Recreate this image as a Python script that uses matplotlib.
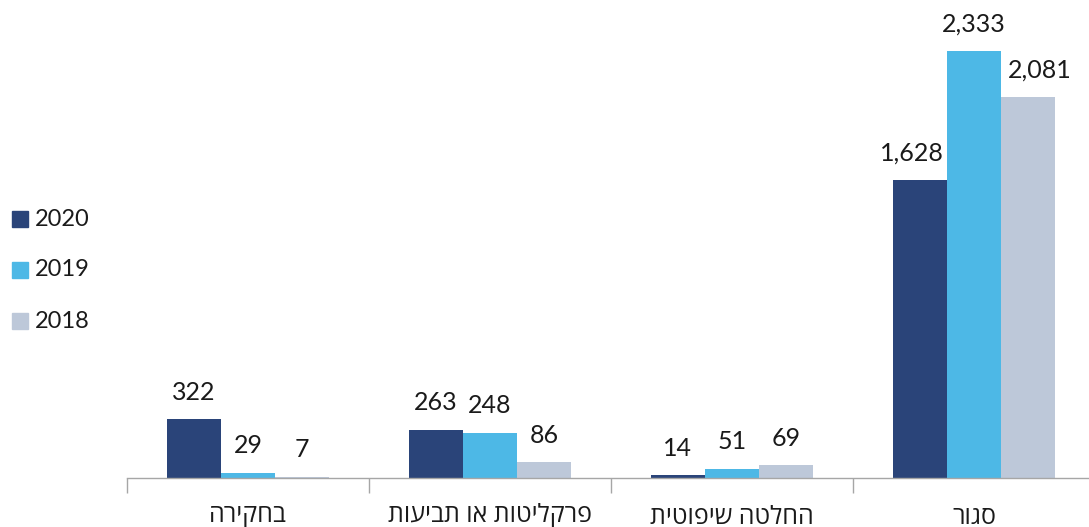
import matplotlib
matplotlib.use("Agg")
import matplotlib.pyplot as plt
import numpy as np

plt.rcParams['font.family'] = ['Lato', 'Open Sans', 'DejaVu Sans']

categories = ["בחקירה", "פרקליטות או תביעות", "החלטה שיפוטית", "סגור"]
years = ["2020", "2019", "2018"]
values_2020 = [322, 263, 14, 1628]
values_2019 = [29, 248, 51, 2333]
values_2018 = [7, 86, 69, 2081]
colors = ["#2A4479", "#4DB8E6", "#BDC8D9"]

W, H = 1089, 527
fig = plt.figure(figsize=(W / 100, H / 100), dpi=100)
ax_left = 127 / W
ax_w = 968 / W
base = 478
ymax = 2400
px_per_unit = 0.1831
ax_h_px = ymax * px_per_unit
ax = fig.add_axes([ax_left, (H - base) / H, ax_w, ax_h_px / H])

series = [values_2020, values_2019, values_2018]
x = np.arange(len(categories))
bw = 0.2235
group_px = 242.0
# small horizontal nudges (px) applied to labels that would crowd neighbours
nudge = {(0, 3): -8, (2, 3): 12}
for i, (vals, col, yr) in enumerate(zip(series, colors, years)):
    pos = x + (i - 1) * bw
    ax.bar(pos, vals, width=bw, color=col, label=yr, zorder=2)
    for j, (p, v) in enumerate(zip(pos, vals)):
        dx = nudge.get((i, j), 0) / group_px
        ax.text(p + dx, v + 27 / px_per_unit, f"{v:,}", ha="center", va="center",
                fontsize=18, color="#1a1a1a", clip_on=False)

ax.set_xlim(-0.5, len(categories) - 0.5)
ax.set_ylim(0, ymax)
for s in ["top", "right", "left"]:
    ax.spines[s].set_visible(False)
ax.spines["bottom"].set_color("#A6A6A6")
ax.spines["bottom"].set_linewidth(1)
ax.set_yticks([])
ax.set_xticks(np.arange(len(categories) + 1) - 0.5, minor=False)
ax.set_xticklabels([""] * (len(categories) + 1))
ax.tick_params(axis="x", length=11, color="#A6A6A6", width=1)
for xi, c in zip(x, categories):
    ax.text(xi, -38 / px_per_unit, c[::-1], ha="center", va="center", fontsize=18,
            color="#1a1a1a", clip_on=False)

# legend
leg_y = [219, 270, 321]
for yr, col, yy in zip(years, colors, leg_y):
    fig.patches.append(plt.Rectangle((12 / W, (H - yy - 8) / H), 16 / W, 16 / H,
                                     transform=fig.transFigure, color=col, figure=fig))
    fig.text(35 / W, (H - yy) / H, yr, ha="left", va="center", fontsize=17, color="#1a1a1a")

fig.savefig("out.png", dpi=100)
